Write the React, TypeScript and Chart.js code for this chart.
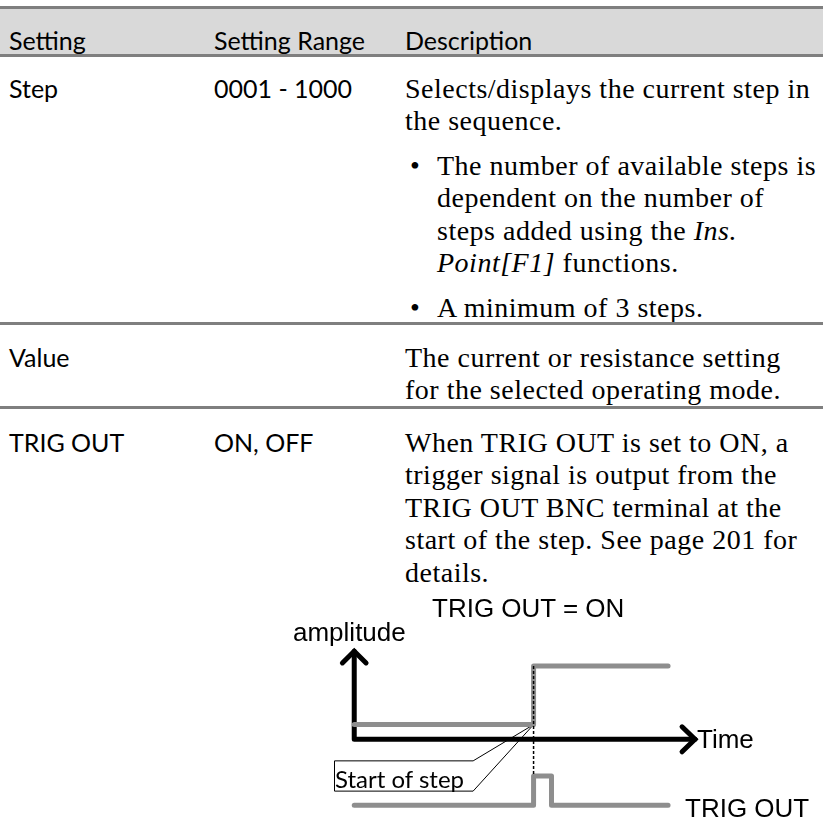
import React, { useEffect, useRef } from "react";
import { Chart, registerables } from "chart.js";

Chart.register(...registerables);

// ---------- Table content ----------
const headers = ["Setting", "Setting Range", "Description"];
const settingNames = ["Step", "Value", "TRIG OUT"];
const settingRanges = ["0001 - 1000", "", "ON, OFF"];
const stepIntro = ["Selects/displays the current step in", "the sequence."];
const stepBullet1 = ["The number of available steps is", "dependent on the number of", "steps added using the |Ins.|", "|Point[F1]| functions."];
const stepBullet2 = ["A minimum of 3 steps."];
const valueLines = ["The current or resistance setting", "for the selected operating mode."];
const trigLines = ["When TRIG OUT is set to ON, a", "trigger signal is output from the", "TRIG OUT BNC terminal at the", "start of the step. See page 201 for", "details."];

// ---------- Diagram data (time units / amplitude units) ----------
const axisPath = [{ x: 0, y: 6 }, { x: 0, y: 0 }, { x: 19, y: 0 }];
const arrowUp = [{ x: -0.66, y: 5.2 }, { x: 0, y: 6 }, { x: 0.66, y: 5.2 }];
const arrowRight = [{ x: 18.28, y: 0.85 }, { x: 19, y: 0 }, { x: 18.28, y: -0.85 }];
const stepTimes = [0, 10, 10, 17.5];
const stepLevels = [1, 1, 5, 5];
const trigTimes = [0, 10, 10, 11, 11, 17.5];
const trigLevels = [-4.5, -4.5, -2.5, -2.5, -4.5, -4.5];
const startMarkerTimes = [10, 10];
const startMarkerLevels = [5, -2.5];
const calloutTimes = [-1.1, 6.63, 10, 6.63, -1.1, -1.1];
const calloutLevels = [-1.47, -1.47, 1, -3.53, -3.53, -1.47];

const zip = (xs: number[], ys: number[]) => xs.map((x, i) => ({ x, y: ys[i] }));

const SANS = "Lato, 'Noto Sans', sans-serif";
const SERIF = "'Liberation Serif', 'DejaVu Serif', serif";
const ARIAL = "'Liberation Sans', Arial, sans-serif";
const LINE = "#7f7f7f";

function RichLine({ text }: { text: string }) {
  const parts = text.split("|");
  return (
    <>
      {parts.map((p, i) => (i % 2 === 1 ? <i key={i}>{p}</i> : <span key={i}>{p}</span>))}
    </>
  );
}

function TextLine({ x, cy, text, font, size, spacing }: { x: number; cy: number; text: string; font: string; size: number; spacing?: number }) {
  return (
    <div
      style={{
        position: "absolute",
        left: x,
        top: cy - 16.5,
        height: 33,
        lineHeight: "33px",
        fontFamily: font,
        fontSize: size,
        letterSpacing: spacing ? spacing + "px" : undefined,
        whiteSpace: "nowrap",
        color: "#000",
      }}
    >
      <RichLine text={text} />
    </div>
  );
}

function Diagram() {
  const ref = useRef<HTMLCanvasElement | null>(null);
  useEffect(() => {
    if (!ref.current) return;
    const gray = "#8e8e8e";
    const chart = new Chart(ref.current, {
      type: "line",
      data: {
        datasets: [
          {
            data: zip(startMarkerTimes, startMarkerLevels),
            borderColor: "#000",
            borderWidth: 1.5,
            borderDash: [3, 2],
            order: 1,
          },
          {
            data: zip(stepTimes, stepLevels),
            borderColor: gray,
            borderWidth: 5,
            borderCapStyle: "round",
            borderJoinStyle: "round",
            order: 2,
          },
          {
            data: zip(trigTimes, trigLevels),
            borderColor: gray,
            borderWidth: 5,
            borderCapStyle: "round",
            borderJoinStyle: "round",
            order: 2,
          },
          {
            data: axisPath,
            borderColor: "#000",
            borderWidth: 5,
            borderCapStyle: "round",
            borderJoinStyle: "round",
            order: 3,
          },
          {
            data: arrowUp,
            borderColor: "#000",
            borderWidth: 5,
            borderCapStyle: "round",
            borderJoinStyle: "miter",
            order: 3,
          },
          {
            data: arrowRight,
            borderColor: "#000",
            borderWidth: 5,
            borderCapStyle: "round",
            borderJoinStyle: "miter",
            order: 3,
          },
          {
            data: zip(calloutTimes, calloutLevels),
            borderColor: "#000",
            borderWidth: 1,
            borderJoinStyle: "miter",
            backgroundColor: "#fff",
            fill: false,
            order: 4,
          },
        ] as any,
      },
      options: {
        animation: false,
        responsive: false,
        maintainAspectRatio: false,
        layout: { padding: 0 },
        parsing: false as any,
        normalized: true,
        elements: { point: { radius: 0, hoverRadius: 0 }, line: { tension: 0 } },
        plugins: { legend: { display: false }, tooltip: { enabled: false } },
        events: [],
        scales: {
          x: { type: "linear", min: -4, max: 26, display: false },
          y: { type: "linear", min: -5.6, max: 10, display: false },
        },
      } as any,
    });
    (chart.data.datasets as any[]).forEach((d) => (d.clip = false));
    chart.update();
    return () => chart.destroy();
  }, []);
  return (
    <canvas
      ref={ref}
      width={543}
      height={234}
      style={{ position: "absolute", left: 280, top: 590, width: 543, height: 234 }}
    />
  );
}

export default function App() {
  const colX = [9, 214, 405];
  const bulletX = 410;
  const bulletTextX = 437;
  const SZ = 25;
  const SERIF_SZ = 28;
  const SERIF_LS = 0.5;
  const lh = 32.5;
  return (
    <div style={{ position: "absolute", left: 0, top: 0, width: 823, height: 826, background: "#fff", overflow: "hidden" }}>
      {/* header */}
      <div style={{ position: "absolute", left: 0, top: 6, width: 823, height: 50, background: "#d9d9d9" }} />
      <div style={{ position: "absolute", left: 0, top: 6, width: 823, height: 2.5, background: LINE }} />
      <div style={{ position: "absolute", left: 0, top: 54, width: 823, height: 2.5, background: LINE }} />
      {headers.map((h, i) => (
        <TextLine key={h} x={colX[i]} cy={40} text={h} font={SANS} size={SZ} />
      ))}

      {/* Step row */}
      <TextLine x={colX[0]} cy={88} text={settingNames[0]} font={SANS} size={SZ} />
      <TextLine x={colX[1]} cy={88} text={settingRanges[0]} font={SANS} size={SZ} />
      {stepIntro.map((t, i) => (
        <TextLine key={t} x={colX[2]} cy={88 + i * lh} text={t} font={SERIF} size={SERIF_SZ} spacing={SERIF_LS} />
      ))}
      <TextLine x={bulletX} cy={165} text={"•"} font={SERIF} size={SERIF_SZ} />
      {stepBullet1.map((t, i) => (
        <TextLine key={t} x={bulletTextX} cy={165 + i * lh} text={t} font={SERIF} size={SERIF_SZ} spacing={SERIF_LS} />
      ))}
      <TextLine x={bulletX} cy={307} text={"•"} font={SERIF} size={SERIF_SZ} />
      {stepBullet2.map((t, i) => (
        <TextLine key={t} x={bulletTextX} cy={307 + i * lh} text={t} font={SERIF} size={SERIF_SZ} spacing={SERIF_LS} />
      ))}
      <div style={{ position: "absolute", left: 0, top: 322, width: 823, height: 2.5, background: LINE }} />

      {/* Value row */}
      <TextLine x={colX[0]} cy={357} text={settingNames[1]} font={SANS} size={SZ} />
      {valueLines.map((t, i) => (
        <TextLine key={t} x={colX[2]} cy={357 + i * lh} text={t} font={SERIF} size={SERIF_SZ} spacing={SERIF_LS} />
      ))}
      <div style={{ position: "absolute", left: 0, top: 406, width: 823, height: 2.5, background: LINE }} />

      {/* TRIG OUT row */}
      <TextLine x={colX[0]} cy={442} text={settingNames[2]} font={SANS} size={SZ} />
      <TextLine x={colX[1]} cy={442} text={settingRanges[2]} font={SANS} size={SZ} />
      {trigLines.map((t, i) => (
        <TextLine key={t} x={colX[2]} cy={442 + i * lh} text={t} font={SERIF} size={SERIF_SZ} spacing={SERIF_LS} />
      ))}

      {/* diagram */}
      <Diagram />
      <TextLine x={432} cy={608} text={"TRIG OUT = ON"} font={ARIAL} size={26} />
      <TextLine x={293} cy={632} text={"amplitude"} font={ARIAL} size={26} />
      <TextLine x={697} cy={739} text={"Time"} font={ARIAL} size={26} />
      <TextLine x={685} cy={808} text={"TRIG OUT"} font={ARIAL} size={26} />
      <TextLine x={335} cy={778} text={"Start of step"} font={SANS} size={24} />
    </div>
  );
}
